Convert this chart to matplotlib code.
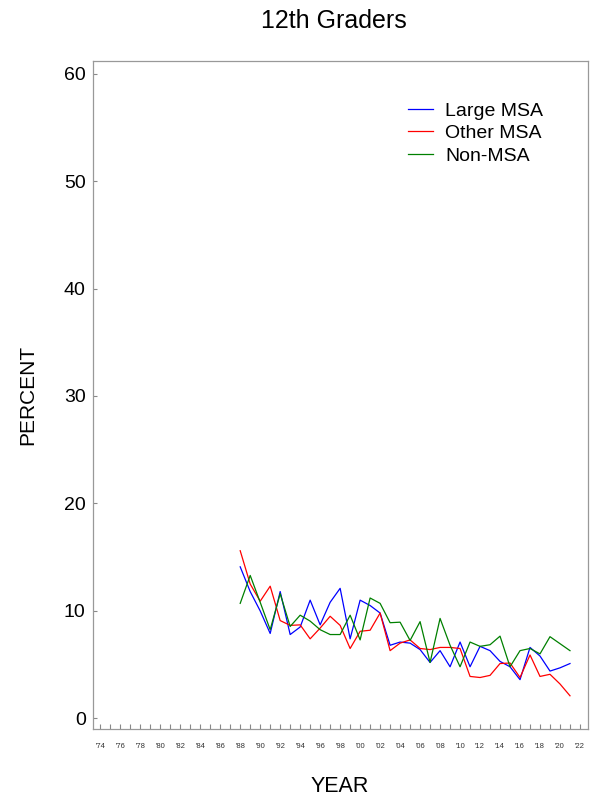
import numpy as np
import matplotlib
matplotlib.use("Agg")
import matplotlib.pyplot as plt
# Arial-like look
plt.rcParams['font.family'] = ['Liberation Sans', 'DejaVu Sans']

years = list(range(1988, 2022))

large_msa = [14.1, 11.8, 10.0, 7.9, 11.8, 7.8, 8.5, 11.0, 8.7, 10.8,
             12.1, 7.4, 11.0, 10.5, 9.8, 6.8, 7.1, 7.0, 6.4, 5.2,
             6.3, 4.8, 7.1, 4.8, 6.7, 6.3, 5.3, 4.8, 3.6, 6.6,
             5.8, 4.4, 4.7, 5.1]

other_msa = [15.6, 12.5, 10.9, 12.3, 9.1, 8.65, 8.7, 7.4, 8.4, 9.5,
             8.65, 6.5, 8.1, 8.2, 9.8, 6.3, 7.0, 7.3, 6.5, 6.4,
             6.6, 6.6, 6.5, 3.9, 3.8, 4.0, 5.1, 5.15, 3.8, 5.9,
             3.9, 4.1, 3.2, 2.1]

non_msa = [10.7, 13.3, 10.8, 8.25, 11.6, 8.55, 9.6, 9.05, 8.25, 7.8,
           7.8, 9.6, 7.3, 11.2, 10.7, 8.9, 8.95, 7.25, 9.0, 5.2,
           9.3, 6.8, 4.8, 7.1, 6.7, 6.85, 7.65, 4.8, 6.3, 6.5,
           6.0, 7.6, 6.95, 6.3]

tick_years = list(range(1974, 2023))
label_years = list(range(1974, 2023, 2))
tick_labels = ["'%02d" % (y % 100) for y in label_years]
y_ticks = [0, 10, 20, 30, 40, 50, 60]

fig = plt.figure(figsize=(5.92, 8.01), dpi=100)
ax = fig.add_axes([0.1576, 0.0895, 0.8356, 0.8347])

ax.plot(years, large_msa, color="#0000ff", lw=0.9, label="Large MSA")
ax.plot(years, other_msa, color="#ff0000", lw=0.9, label="Other MSA")
ax.plot(years, non_msa, color="#008000", lw=0.9, label="Non-MSA")

ax.set_xlim(1973.3, 2022.8)
ax.set_ylim(-1.02, 61.2)

ax.set_xticks(tick_years, minor=True)
ax.set_xticks(label_years)
ax.set_xticklabels(tick_labels)
ax.set_yticks(y_ticks)

for s in ax.spines.values():
    s.set_color("#999999")
    s.set_linewidth(0.9)

ax.tick_params(axis="x", which="both", direction="in", length=3.6, width=0.8,
               color="#888888", labelsize=5.5, labelcolor="#333333", pad=10)
ax.tick_params(axis="y", direction="in", length=3, width=0.8,
               color="#888888", labelsize=14, pad=5.5)

fig.text(334 / 592, 1 - 21 / 801, "12th Graders", fontsize=18,
         ha="center", va="center")
fig.text(340 / 592, 1 - 786 / 801, "YEAR", fontsize=15.5,
         ha="center", va="center")
fig.text(28 / 592, 1 - 395 / 801, "PERCENT", fontsize=15,
         ha="center", va="center", rotation=90)

ax.legend(loc="upper left", bbox_to_anchor=(408 / 592, 1 - 102 / 801),
          bbox_transform=fig.transFigure, frameon=False, fontsize=14,
          handlelength=1.3, handletextpad=0.6, labelspacing=0.25,
          borderpad=0, borderaxespad=0)

fig.savefig("out.png", dpi=100)
